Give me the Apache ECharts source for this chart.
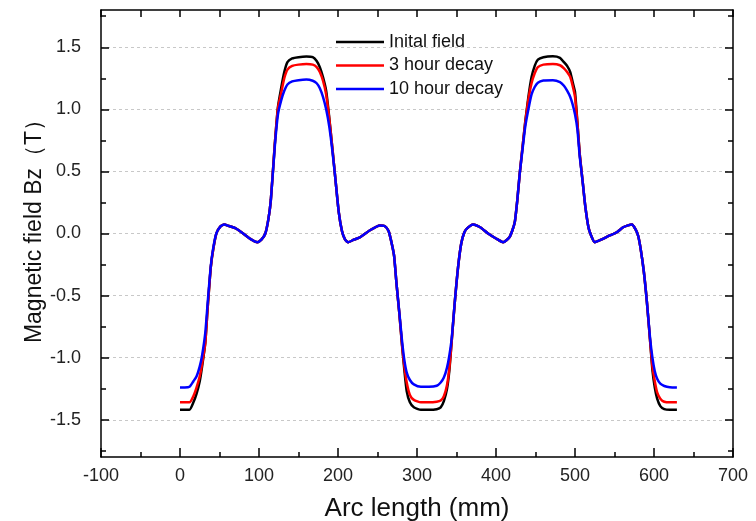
<!DOCTYPE html>
<html>
<head>
<meta charset="utf-8">
<script src="https://cdn.jsdelivr.net/npm/echarts@6/dist/echarts.min.js"></script>
<style>
  html, body { margin: 0; padding: 0; background: #fff; }
  #main { width: 756px; height: 521px; }
</style>
</head>
<body>
<div id="main"></div>
<script>
// arc length (mm), shared by the three curves
var arcLength = [
  0, 6, 12, 17, 21, 25, 28, 32, 35, 39, 42, 46,
  51, 56, 62, 70, 80, 89, 98, 103, 108, 112, 115,
  120, 124, 128, 132, 136, 142, 150, 160, 168, 173, 177, 181, 185, 189, 193,
  197, 201, 205, 209, 213, 220, 228, 240, 253, 259, 264, 268, 271, 274, 278,
  281, 284, 287, 291, 296, 305, 315, 325, 330, 334, 338, 341, 344, 348,
  352, 356, 360, 364, 371, 380, 390, 400, 409, 417, 421, 424, 427, 430, 434,
  437, 441, 445, 449, 453, 460, 472, 481, 486, 490, 494, 497, 500, 503, 506,
  510, 513, 517, 520, 525, 533, 544, 553, 561, 567, 572, 577, 580, 583, 587, 591,
  595, 598, 601, 604, 608, 613, 620, 629
];
var initialField = [
  -1.42, -1.42, -1.42, -1.36, -1.29, -1.19, -1.07, -0.88, -0.6, -0.27, -0.13, 0,
  0.055, 0.073, 0.06, 0.043, 0, -0.043, -0.07, -0.05, 0, 0.12, 0.27,
  0.72, 1.02, 1.17, 1.3, 1.38, 1.41, 1.42, 1.425, 1.42, 1.39, 1.34, 1.26, 1.15, 0.93, 0.68,
  0.42, 0.17, 0.02, -0.05, -0.07, -0.05, -0.03, 0.024, 0.065, 0.06, 0.02, -0.08, -0.18, -0.4, -0.67,
  -0.9, -1.1, -1.27, -1.36, -1.4, -1.42, -1.42, -1.415, -1.4, -1.35, -1.25, -1.1, -0.86, -0.54,
  -0.27, -0.08, 0.01, 0.045, 0.073, 0.05, 0, -0.04, -0.07, -0.03, 0.03, 0.1, 0.27, 0.48, 0.72,
  0.9, 1.1, 1.26, 1.35, 1.4, 1.42, 1.427, 1.415, 1.38, 1.35, 1.3, 1.22, 1.14, 0.9, 0.64,
  0.4, 0.22, 0.05, -0.01, -0.07, -0.05, -0.016, 0.01, 0.05, 0.065, 0.073, 0.03, -0.02, -0.12, -0.3, -0.55,
  -0.86, -1.1, -1.24, -1.33, -1.39, -1.415, -1.42, -1.42
];
var decay3h = [
  -1.36, -1.36, -1.36, -1.31, -1.24, -1.15, -1.05, -0.88, -0.6, -0.27, -0.13, 0,
  0.055, 0.073, 0.06, 0.043, 0, -0.043, -0.07, -0.05, 0, 0.12, 0.27,
  0.72, 1.01, 1.13, 1.25, 1.32, 1.35, 1.36, 1.365, 1.36, 1.34, 1.3, 1.23, 1.12, 0.92, 0.68,
  0.42, 0.17, 0.02, -0.05, -0.07, -0.05, -0.03, 0.024, 0.065, 0.06, 0.02, -0.08, -0.18, -0.4, -0.67,
  -0.89, -1.07, -1.2, -1.3, -1.34, -1.36, -1.36, -1.355, -1.345, -1.31, -1.22, -1.08, -0.86, -0.54,
  -0.27, -0.08, 0.01, 0.045, 0.073, 0.05, 0, -0.04, -0.07, -0.03, 0.03, 0.1, 0.27, 0.48, 0.72,
  0.89, 1.08, 1.21, 1.29, 1.34, 1.36, 1.365, 1.355, 1.33, 1.3, 1.26, 1.19, 1.1, 0.89, 0.64,
  0.4, 0.22, 0.05, -0.01, -0.07, -0.05, -0.016, 0.01, 0.05, 0.065, 0.073, 0.03, -0.02, -0.12, -0.3, -0.55,
  -0.86, -1.07, -1.19, -1.28, -1.33, -1.355, -1.36, -1.36
];
var decay10h = [
  -1.24, -1.24, -1.235, -1.19, -1.15, -1.07, -0.98, -0.8, -0.56, -0.26, -0.12, 0,
  0.055, 0.073, 0.06, 0.043, 0, -0.043, -0.07, -0.05, 0, 0.12, 0.27,
  0.7, 0.96, 1.07, 1.15, 1.2, 1.225, 1.235, 1.24, 1.23, 1.21, 1.17, 1.1, 1.0, 0.86, 0.66,
  0.42, 0.17, 0.02, -0.05, -0.07, -0.05, -0.03, 0.024, 0.065, 0.06, 0.02, -0.08, -0.18, -0.4, -0.66,
  -0.86, -1.02, -1.12, -1.18, -1.215, -1.234, -1.234, -1.226, -1.2, -1.16, -1.08, -0.98, -0.84, -0.54,
  -0.27, -0.08, 0.01, 0.045, 0.073, 0.05, 0, -0.04, -0.07, -0.03, 0.03, 0.1, 0.27, 0.48, 0.7,
  0.86, 1.0, 1.12, 1.18, 1.215, 1.232, 1.235, 1.22, 1.19, 1.15, 1.1, 1.04, 0.96, 0.84, 0.62,
  0.4, 0.22, 0.05, -0.01, -0.07, -0.05, -0.016, 0.01, 0.05, 0.065, 0.073, 0.03, -0.02, -0.12, -0.3, -0.55,
  -0.84, -1.0, -1.11, -1.17, -1.21, -1.228, -1.238, -1.24
];
var seriesNames = ['Inital field', '3 hour decay', '10 hour decay'];
var yMajorTicks = [-1.5, -1.0, -0.5, 0, 0.5, 1.0, 1.5];
var yMinorTicks = [-1.75, -1.25, -0.75, -0.25, 0.25, 0.75, 1.25, 1.75];

var font = '"Liberation Sans", Arial, sans-serif';
var chart = echarts.init(document.getElementById('main'));

function pairs(ys) {
  return arcLength.map(function (x, i) { return [x, ys[i]]; });
}

function yAxisOf(side, ticks, len, withLine) {
  return {
    type: 'value', gridIndex: 0, position: side,
    min: -1.8, max: 1.8,
    axisLine: { show: withLine, onZero: false, lineStyle: { color: '#000', width: 1.5 } },
    axisTick: { show: true, inside: true, length: len, customValues: ticks, lineStyle: { color: '#000', width: 1.5 } },
    axisLabel: { show: false },
    splitLine: { show: false }
  };
}

var mainY = yAxisOf('left', yMajorTicks, 8, true);
mainY.axisLabel = {
  show: true, customValues: yMajorTicks, margin: 20,
  fontSize: 18, color: '#222', fontFamily: font,
  formatter: function (v) { return v.toFixed(1); }
};
mainY.splitLine = { show: true, lineStyle: { color: '#c8c8c8', type: [3, 3], width: 1 } };
mainY.name = 'Magnetic field Bz（T）';
mainY.nameLocation = 'middle';
mainY.nameGap = 55;
mainY.nameMoveOverlap = false;
mainY.nameTextStyle = { fontSize: 23, color: '#111', fontFamily: font, padding: [0, 0, 0, 16] };

var option = {
  backgroundColor: '#fff',
  animation: false,
  grid: { left: 101, right: 23, top: 10, bottom: 64, outerBoundsMode: 'none', containLabel: false },
  legend: {
    orient: 'vertical', left: 331, top: 27,
    icon: 'rect', itemWidth: 48, itemHeight: 2.5, itemGap: 3.5, itemTextGap: 7,
    textStyle: { fontSize: 18, lineHeight: 20, color: '#111', fontFamily: font },
    data: seriesNames
  },
  xAxis: [{
    type: 'value', position: 'bottom',
    min: -100, max: 700, interval: 100,
    axisLine: { onZero: false, lineStyle: { color: '#000', width: 1.5 } },
    axisTick: { inside: true, length: 9, lineStyle: { color: '#000', width: 1.5 } },
    minorTick: { show: true, splitNumber: 2, length: 5, lineStyle: { color: '#000', width: 1.5 } },
    axisLabel: { margin: 10, fontSize: 18, color: '#222', fontFamily: font },
    splitLine: { show: false },
    name: 'Arc length (mm)', nameLocation: 'middle', nameGap: 39, nameMoveOverlap: false,
    nameTextStyle: { fontSize: 26, color: '#111', fontFamily: font }
  }, {
    type: 'value', position: 'top',
    min: -100, max: 700, interval: 50,
    axisLine: { onZero: false, lineStyle: { color: '#000', width: 1.5 } },
    axisTick: { inside: true, length: 7, lineStyle: { color: '#000', width: 1.5 } },
    axisLabel: { show: false },
    splitLine: { show: false }
  }],
  yAxis: [
    mainY,
    yAxisOf('left', yMinorTicks, 5, false),
    yAxisOf('right', yMajorTicks, 8, true),
    yAxisOf('right', yMinorTicks, 5, false)
  ],
  series: [
    { name: seriesNames[0], type: 'line', data: pairs(initialField), color: '#000000' },
    { name: seriesNames[1], type: 'line', data: pairs(decay3h), color: '#ff0000' },
    { name: seriesNames[2], type: 'line', data: pairs(decay10h), color: '#0000ff' }
  ].map(function (s) {
    s.symbol = 'none';
    s.smooth = 0.2;
    s.lineStyle = { width: 2.5 };
    return s;
  })
};
chart.setOption(option);
</script>
</body>
</html>
